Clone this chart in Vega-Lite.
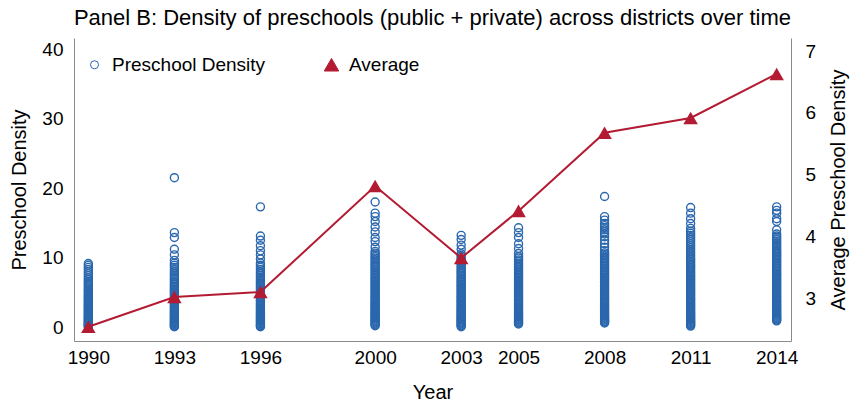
{
  "$schema": "https://vega.github.io/schema/vega-lite/v6.json",
  "width": 717,
  "height": 303,
  "autosize": {"type": "none"},
  "padding": {"left": 74, "top": 38, "right": 63, "bottom": 67},
  "background": "white",
  "config": {
    "view": {"stroke": null},
    "font": "Liberation Sans",
    "axis": {"labelFont": "Liberation Sans", "titleFont": "Liberation Sans", "labelColor": "black", "titleColor": "black", "labelFontSize": 19, "titleFontSize": 20, "titleFontWeight": "normal", "grid": false, "ticks": false, "tickSize": 0, "domainColor": "#8a8a8a", "domainWidth": 1},
    "legend": {"orient": "none", "legendX": 11, "legendY": 17, "direction": "horizontal", "labelFont": "Liberation Sans", "labelFontSize": 19, "labelColor": "black", "labelOffset": 8, "columnPadding": 56, "padding": 0, "symbolStrokeWidth": 1, "labelLimit": 400}
  },
  "title": {"text": "Panel B: Density of preschools (public + private) across districts over time", "font": "Liberation Sans", "fontSize": 22, "fontWeight": "normal", "color": "black", "anchor": "middle", "offset": 8},
  "datasets": {
    "scatter": [
      {"t":1990,"d":0.02},{"t":1990,"d":0.1},{"t":1990,"d":0.18},{"t":1990,"d":0.3},{"t":1990,"d":0.41},{"t":1990,"d":0.5},{"t":1990,"d":0.62},{"t":1990,"d":0.7},{"t":1990,"d":0.83},{"t":1990,"d":0.95},{"t":1990,"d":1.04},{"t":1990,"d":1.2},{"t":1990,"d":1.31},{"t":1990,"d":1.45},{"t":1990,"d":1.6},{"t":1990,"d":1.72},{"t":1990,"d":1.85},{"t":1990,"d":2.0},{"t":1990,"d":2.14},{"t":1990,"d":2.3},{"t":1990,"d":2.42},{"t":1990,"d":2.6},{"t":1990,"d":2.75},{"t":1990,"d":2.9},{"t":1990,"d":3.1},{"t":1990,"d":3.25},{"t":1990,"d":3.42},{"t":1990,"d":3.6},{"t":1990,"d":3.8},{"t":1990,"d":3.97},{"t":1990,"d":4.15},{"t":1990,"d":4.33},{"t":1990,"d":4.52},{"t":1990,"d":4.7},{"t":1990,"d":4.9},{"t":1990,"d":5.1},{"t":1990,"d":5.3},{"t":1990,"d":5.5},{"t":1990,"d":5.72},{"t":1990,"d":5.95},{"t":1990,"d":6.15},{"t":1990,"d":6.4},{"t":1990,"d":6.6},{"t":1990,"d":6.85},{"t":1990,"d":7.1},{"t":1990,"d":7.4},{"t":1990,"d":7.7},{"t":1990,"d":8.0},{"t":1990,"d":8.3},{"t":1990,"d":8.6},{"t":1990,"d":8.9},{"t":1990,"d":9.15},
      {"t":1993,"d":0.05},{"t":1993,"d":0.12},{"t":1993,"d":0.25},{"t":1993,"d":0.38},{"t":1993,"d":0.5},{"t":1993,"d":0.63},{"t":1993,"d":0.77},{"t":1993,"d":0.9},{"t":1993,"d":1.02},{"t":1993,"d":1.18},{"t":1993,"d":1.3},{"t":1993,"d":1.46},{"t":1993,"d":1.6},{"t":1993,"d":1.75},{"t":1993,"d":1.9},{"t":1993,"d":2.05},{"t":1993,"d":2.2},{"t":1993,"d":2.36},{"t":1993,"d":2.5},{"t":1993,"d":2.68},{"t":1993,"d":2.85},{"t":1993,"d":3.0},{"t":1993,"d":3.2},{"t":1993,"d":3.38},{"t":1993,"d":3.55},{"t":1993,"d":3.74},{"t":1993,"d":3.92},{"t":1993,"d":4.1},{"t":1993,"d":4.3},{"t":1993,"d":4.5},{"t":1993,"d":4.7},{"t":1993,"d":4.9},{"t":1993,"d":5.1},{"t":1993,"d":5.3},{"t":1993,"d":5.5},{"t":1993,"d":5.7},{"t":1993,"d":5.9},{"t":1993,"d":6.12},{"t":1993,"d":6.35},{"t":1993,"d":6.55},{"t":1993,"d":6.8},{"t":1993,"d":7.0},{"t":1993,"d":7.25},{"t":1993,"d":7.5},{"t":1993,"d":7.75},{"t":1993,"d":8.0},{"t":1993,"d":8.3},{"t":1993,"d":8.6},{"t":1993,"d":8.9},{"t":1993,"d":9.2},{"t":1993,"d":9.6},{"t":1993,"d":10.4},{"t":1993,"d":11.2},{"t":1993,"d":12.9},{"t":1993,"d":13.6},{"t":1993,"d":21.5},
      {"t":1996,"d":0.05},{"t":1996,"d":0.15},{"t":1996,"d":0.27},{"t":1996,"d":0.4},{"t":1996,"d":0.52},{"t":1996,"d":0.66},{"t":1996,"d":0.8},{"t":1996,"d":0.93},{"t":1996,"d":1.07},{"t":1996,"d":1.2},{"t":1996,"d":1.35},{"t":1996,"d":1.5},{"t":1996,"d":1.66},{"t":1996,"d":1.8},{"t":1996,"d":1.95},{"t":1996,"d":2.1},{"t":1996,"d":2.26},{"t":1996,"d":2.42},{"t":1996,"d":2.6},{"t":1996,"d":2.77},{"t":1996,"d":2.95},{"t":1996,"d":3.12},{"t":1996,"d":3.3},{"t":1996,"d":3.5},{"t":1996,"d":3.68},{"t":1996,"d":3.85},{"t":1996,"d":4.05},{"t":1996,"d":4.25},{"t":1996,"d":4.45},{"t":1996,"d":4.65},{"t":1996,"d":4.85},{"t":1996,"d":5.05},{"t":1996,"d":5.25},{"t":1996,"d":5.45},{"t":1996,"d":5.66},{"t":1996,"d":5.88},{"t":1996,"d":6.1},{"t":1996,"d":6.3},{"t":1996,"d":6.52},{"t":1996,"d":6.75},{"t":1996,"d":7.0},{"t":1996,"d":7.22},{"t":1996,"d":7.48},{"t":1996,"d":7.75},{"t":1996,"d":8.0},{"t":1996,"d":8.3},{"t":1996,"d":8.6},{"t":1996,"d":8.9},{"t":1996,"d":9.2},{"t":1996,"d":9.8},{"t":1996,"d":10.4},{"t":1996,"d":11.0},{"t":1996,"d":11.7},{"t":1996,"d":12.5},{"t":1996,"d":13.1},{"t":1996,"d":17.3},
      {"t":2000,"d":0.2},{"t":2000,"d":0.32},{"t":2000,"d":0.45},{"t":2000,"d":0.6},{"t":2000,"d":0.74},{"t":2000,"d":0.88},{"t":2000,"d":1.0},{"t":2000,"d":1.15},{"t":2000,"d":1.3},{"t":2000,"d":1.44},{"t":2000,"d":1.58},{"t":2000,"d":1.72},{"t":2000,"d":1.88},{"t":2000,"d":2.02},{"t":2000,"d":2.18},{"t":2000,"d":2.34},{"t":2000,"d":2.5},{"t":2000,"d":2.66},{"t":2000,"d":2.82},{"t":2000,"d":3.0},{"t":2000,"d":3.16},{"t":2000,"d":3.34},{"t":2000,"d":3.5},{"t":2000,"d":3.68},{"t":2000,"d":3.86},{"t":2000,"d":4.04},{"t":2000,"d":4.22},{"t":2000,"d":4.4},{"t":2000,"d":4.6},{"t":2000,"d":4.8},{"t":2000,"d":5.0},{"t":2000,"d":5.2},{"t":2000,"d":5.4},{"t":2000,"d":5.6},{"t":2000,"d":5.8},{"t":2000,"d":6.0},{"t":2000,"d":6.2},{"t":2000,"d":6.4},{"t":2000,"d":6.6},{"t":2000,"d":6.8},{"t":2000,"d":7.0},{"t":2000,"d":7.2},{"t":2000,"d":7.42},{"t":2000,"d":7.64},{"t":2000,"d":7.86},{"t":2000,"d":8.08},{"t":2000,"d":8.3},{"t":2000,"d":8.52},{"t":2000,"d":8.75},{"t":2000,"d":8.98},{"t":2000,"d":9.2},{"t":2000,"d":9.44},{"t":2000,"d":9.68},{"t":2000,"d":9.92},{"t":2000,"d":10.16},{"t":2000,"d":10.4},{"t":2000,"d":10.65},{"t":2000,"d":10.9},{"t":2000,"d":11.5},{"t":2000,"d":12.3},{"t":2000,"d":12.9},{"t":2000,"d":13.7},{"t":2000,"d":14.4},{"t":2000,"d":15.2},{"t":2000,"d":15.9},{"t":2000,"d":16.4},{"t":2000,"d":18.0},
      {"t":2003,"d":0.05},{"t":2003,"d":0.18},{"t":2003,"d":0.3},{"t":2003,"d":0.44},{"t":2003,"d":0.58},{"t":2003,"d":0.72},{"t":2003,"d":0.86},{"t":2003,"d":1.0},{"t":2003,"d":1.14},{"t":2003,"d":1.3},{"t":2003,"d":1.45},{"t":2003,"d":1.6},{"t":2003,"d":1.76},{"t":2003,"d":1.92},{"t":2003,"d":2.08},{"t":2003,"d":2.24},{"t":2003,"d":2.4},{"t":2003,"d":2.58},{"t":2003,"d":2.75},{"t":2003,"d":2.92},{"t":2003,"d":3.1},{"t":2003,"d":3.28},{"t":2003,"d":3.46},{"t":2003,"d":3.64},{"t":2003,"d":3.82},{"t":2003,"d":4.0},{"t":2003,"d":4.2},{"t":2003,"d":4.4},{"t":2003,"d":4.6},{"t":2003,"d":4.8},{"t":2003,"d":5.0},{"t":2003,"d":5.2},{"t":2003,"d":5.4},{"t":2003,"d":5.6},{"t":2003,"d":5.8},{"t":2003,"d":6.0},{"t":2003,"d":6.2},{"t":2003,"d":6.4},{"t":2003,"d":6.6},{"t":2003,"d":6.82},{"t":2003,"d":7.04},{"t":2003,"d":7.26},{"t":2003,"d":7.48},{"t":2003,"d":7.7},{"t":2003,"d":7.92},{"t":2003,"d":8.14},{"t":2003,"d":8.36},{"t":2003,"d":8.6},{"t":2003,"d":8.84},{"t":2003,"d":9.08},{"t":2003,"d":9.32},{"t":2003,"d":9.56},{"t":2003,"d":9.8},{"t":2003,"d":10.05},{"t":2003,"d":10.3},{"t":2003,"d":10.55},{"t":2003,"d":11.2},{"t":2003,"d":11.8},{"t":2003,"d":12.6},{"t":2003,"d":13.2},
      {"t":2005,"d":0.45},{"t":2005,"d":0.58},{"t":2005,"d":0.7},{"t":2005,"d":0.84},{"t":2005,"d":0.98},{"t":2005,"d":1.12},{"t":2005,"d":1.27},{"t":2005,"d":1.42},{"t":2005,"d":1.57},{"t":2005,"d":1.72},{"t":2005,"d":1.88},{"t":2005,"d":2.04},{"t":2005,"d":2.2},{"t":2005,"d":2.36},{"t":2005,"d":2.52},{"t":2005,"d":2.7},{"t":2005,"d":2.88},{"t":2005,"d":3.06},{"t":2005,"d":3.24},{"t":2005,"d":3.42},{"t":2005,"d":3.6},{"t":2005,"d":3.8},{"t":2005,"d":4.0},{"t":2005,"d":4.2},{"t":2005,"d":4.4},{"t":2005,"d":4.6},{"t":2005,"d":4.8},{"t":2005,"d":5.0},{"t":2005,"d":5.2},{"t":2005,"d":5.4},{"t":2005,"d":5.6},{"t":2005,"d":5.8},{"t":2005,"d":6.0},{"t":2005,"d":6.2},{"t":2005,"d":6.4},{"t":2005,"d":6.6},{"t":2005,"d":6.8},{"t":2005,"d":7.0},{"t":2005,"d":7.2},{"t":2005,"d":7.42},{"t":2005,"d":7.64},{"t":2005,"d":7.86},{"t":2005,"d":8.08},{"t":2005,"d":8.3},{"t":2005,"d":8.52},{"t":2005,"d":8.74},{"t":2005,"d":8.96},{"t":2005,"d":9.2},{"t":2005,"d":9.44},{"t":2005,"d":9.68},{"t":2005,"d":9.92},{"t":2005,"d":10.15},{"t":2005,"d":10.6},{"t":2005,"d":11.3},{"t":2005,"d":12.0},{"t":2005,"d":12.9},{"t":2005,"d":13.6},{"t":2005,"d":14.3},
      {"t":2008,"d":0.6},{"t":2008,"d":0.72},{"t":2008,"d":0.85},{"t":2008,"d":1.0},{"t":2008,"d":1.14},{"t":2008,"d":1.28},{"t":2008,"d":1.42},{"t":2008,"d":1.57},{"t":2008,"d":1.72},{"t":2008,"d":1.88},{"t":2008,"d":2.04},{"t":2008,"d":2.2},{"t":2008,"d":2.36},{"t":2008,"d":2.52},{"t":2008,"d":2.7},{"t":2008,"d":2.88},{"t":2008,"d":3.06},{"t":2008,"d":3.24},{"t":2008,"d":3.42},{"t":2008,"d":3.6},{"t":2008,"d":3.8},{"t":2008,"d":4.0},{"t":2008,"d":4.2},{"t":2008,"d":4.4},{"t":2008,"d":4.6},{"t":2008,"d":4.8},{"t":2008,"d":5.0},{"t":2008,"d":5.2},{"t":2008,"d":5.4},{"t":2008,"d":5.6},{"t":2008,"d":5.8},{"t":2008,"d":6.0},{"t":2008,"d":6.2},{"t":2008,"d":6.4},{"t":2008,"d":6.6},{"t":2008,"d":6.8},{"t":2008,"d":7.0},{"t":2008,"d":7.2},{"t":2008,"d":7.4},{"t":2008,"d":7.6},{"t":2008,"d":7.82},{"t":2008,"d":8.04},{"t":2008,"d":8.26},{"t":2008,"d":8.48},{"t":2008,"d":8.7},{"t":2008,"d":8.92},{"t":2008,"d":9.14},{"t":2008,"d":9.36},{"t":2008,"d":9.58},{"t":2008,"d":9.8},{"t":2008,"d":10.02},{"t":2008,"d":10.24},{"t":2008,"d":10.46},{"t":2008,"d":10.68},{"t":2008,"d":11.0},{"t":2008,"d":11.5},{"t":2008,"d":12.0},{"t":2008,"d":12.5},{"t":2008,"d":13.0},{"t":2008,"d":13.4},{"t":2008,"d":13.7},{"t":2008,"d":14.0},{"t":2008,"d":14.3},{"t":2008,"d":14.6},{"t":2008,"d":14.9},{"t":2008,"d":15.4},{"t":2008,"d":15.9},{"t":2008,"d":18.8},
      {"t":2011,"d":0.15},{"t":2011,"d":0.28},{"t":2011,"d":0.4},{"t":2011,"d":0.54},{"t":2011,"d":0.68},{"t":2011,"d":0.82},{"t":2011,"d":0.96},{"t":2011,"d":1.1},{"t":2011,"d":1.25},{"t":2011,"d":1.4},{"t":2011,"d":1.55},{"t":2011,"d":1.7},{"t":2011,"d":1.86},{"t":2011,"d":2.02},{"t":2011,"d":2.18},{"t":2011,"d":2.34},{"t":2011,"d":2.5},{"t":2011,"d":2.66},{"t":2011,"d":2.84},{"t":2011,"d":3.02},{"t":2011,"d":3.2},{"t":2011,"d":3.38},{"t":2011,"d":3.56},{"t":2011,"d":3.74},{"t":2011,"d":3.92},{"t":2011,"d":4.1},{"t":2011,"d":4.3},{"t":2011,"d":4.5},{"t":2011,"d":4.7},{"t":2011,"d":4.9},{"t":2011,"d":5.1},{"t":2011,"d":5.3},{"t":2011,"d":5.5},{"t":2011,"d":5.7},{"t":2011,"d":5.9},{"t":2011,"d":6.1},{"t":2011,"d":6.3},{"t":2011,"d":6.5},{"t":2011,"d":6.7},{"t":2011,"d":6.9},{"t":2011,"d":7.1},{"t":2011,"d":7.3},{"t":2011,"d":7.5},{"t":2011,"d":7.72},{"t":2011,"d":7.94},{"t":2011,"d":8.16},{"t":2011,"d":8.38},{"t":2011,"d":8.6},{"t":2011,"d":8.82},{"t":2011,"d":9.04},{"t":2011,"d":9.26},{"t":2011,"d":9.48},{"t":2011,"d":9.7},{"t":2011,"d":9.92},{"t":2011,"d":10.2},{"t":2011,"d":10.5},{"t":2011,"d":10.8},{"t":2011,"d":11.1},{"t":2011,"d":11.4},{"t":2011,"d":11.7},{"t":2011,"d":12.0},{"t":2011,"d":12.3},{"t":2011,"d":12.6},{"t":2011,"d":12.9},{"t":2011,"d":13.2},{"t":2011,"d":13.5},{"t":2011,"d":13.8},{"t":2011,"d":14.2},{"t":2011,"d":14.9},{"t":2011,"d":15.6},{"t":2011,"d":16.4},{"t":2011,"d":17.2},
      {"t":2014,"d":0.9},{"t":2014,"d":1.02},{"t":2014,"d":1.15},{"t":2014,"d":1.28},{"t":2014,"d":1.42},{"t":2014,"d":1.56},{"t":2014,"d":1.7},{"t":2014,"d":1.85},{"t":2014,"d":2.0},{"t":2014,"d":2.15},{"t":2014,"d":2.3},{"t":2014,"d":2.46},{"t":2014,"d":2.62},{"t":2014,"d":2.78},{"t":2014,"d":2.94},{"t":2014,"d":3.1},{"t":2014,"d":3.28},{"t":2014,"d":3.46},{"t":2014,"d":3.64},{"t":2014,"d":3.82},{"t":2014,"d":4.0},{"t":2014,"d":4.2},{"t":2014,"d":4.4},{"t":2014,"d":4.6},{"t":2014,"d":4.8},{"t":2014,"d":5.0},{"t":2014,"d":5.2},{"t":2014,"d":5.4},{"t":2014,"d":5.6},{"t":2014,"d":5.8},{"t":2014,"d":6.0},{"t":2014,"d":6.2},{"t":2014,"d":6.4},{"t":2014,"d":6.6},{"t":2014,"d":6.8},{"t":2014,"d":7.0},{"t":2014,"d":7.2},{"t":2014,"d":7.4},{"t":2014,"d":7.6},{"t":2014,"d":7.8},{"t":2014,"d":8.02},{"t":2014,"d":8.24},{"t":2014,"d":8.46},{"t":2014,"d":8.68},{"t":2014,"d":8.9},{"t":2014,"d":9.12},{"t":2014,"d":9.34},{"t":2014,"d":9.56},{"t":2014,"d":9.78},{"t":2014,"d":10.0},{"t":2014,"d":10.22},{"t":2014,"d":10.44},{"t":2014,"d":10.66},{"t":2014,"d":10.88},{"t":2014,"d":11.1},{"t":2014,"d":11.35},{"t":2014,"d":11.6},{"t":2014,"d":11.85},{"t":2014,"d":12.1},{"t":2014,"d":12.35},{"t":2014,"d":12.6},{"t":2014,"d":12.85},{"t":2014,"d":13.1},{"t":2014,"d":13.4},{"t":2014,"d":14.0},{"t":2014,"d":15.2},{"t":2014,"d":15.6},{"t":2014,"d":16.4},{"t":2014,"d":16.8},{"t":2014,"d":17.3}
    ],
    "avg": [
      {"t":1990,"a":2.55},{"t":1993,"a":3.03},{"t":1996,"a":3.11},{"t":2000,"a":4.82},{"t":2003,"a":3.66},{"t":2005,"a":4.42},{"t":2008,"a":5.68},{"t":2011,"a":5.92},{"t":2014,"a":6.63}
    ]
  },
  "layer": [
    {
      "data": {"name": "scatter"},
      "mark": {"type": "point", "filled": false, "strokeWidth": 1.4, "opacity": 1},
      "encoding": {
        "x": {"field": "t", "type": "quantitative", "scale": {"domain": [1989.5, 2014.5], "nice": false, "zero": false}, "axis": {"values": [1990,1993,1996,2000,2003,2005,2008,2011,2014], "format": "d", "title": "Year", "labelPadding": 7, "titlePadding": 15, "labelFlush": false}},
        "y": {"field": "d", "type": "quantitative", "scale": {"domain": [-2, 41.6], "nice": false, "zero": false}, "axis": {"values": [0,10,20,30,40], "title": "Preschool Density", "labelPadding": 11, "titlePadding": 12}},
        "stroke": {"datum": "Preschool Density", "type": "ordinal", "scale": {"domain": ["Preschool Density", "Average"], "range": ["#2a67ad", "#b31b32"]}, "legend": {"title": null}},
        "fill": {"datum": "Preschool Density", "type": "ordinal", "scale": {"domain": ["Preschool Density", "Average"], "range": ["transparent", "#b31b32"]}, "legend": {"title": null}},
        "shape": {"datum": "Preschool Density", "type": "ordinal", "scale": {"domain": ["Preschool Density", "Average"], "range": ["circle", "triangle-up"]}, "legend": {"title": null}},
        "size": {"datum": "Preschool Density", "type": "ordinal", "scale": {"domain": ["Preschool Density", "Average"], "range": [64, 210]}, "legend": {"title": null}}
      }
    },
    {
      "data": {"name": "avg"},
      "encoding": {
        "x": {"field": "t", "type": "quantitative"},
        "y": {"field": "a", "type": "quantitative", "scale": {"domain": [2.32, 7.21], "nice": false, "zero": false}, "axis": {"orient": "right", "values": [3,4,5,6,7], "title": "Average Preschool Density", "titleAngle": 270, "titleBaseline": "top", "labelPadding": 14, "titlePadding": 13}}
      },
      "layer": [
        {"mark": {"type": "line", "color": "#b31b32", "strokeWidth": 2}},
        {
          "mark": {"type": "point", "filled": true, "opacity": 1, "strokeWidth": 0},
          "encoding": {
            "stroke": {"datum": "Average", "type": "ordinal", "legend": {"title": null}},
            "fill": {"datum": "Average", "type": "ordinal", "legend": {"title": null}},
            "shape": {"datum": "Average", "type": "ordinal", "legend": {"title": null}},
            "size": {"datum": "Average", "type": "ordinal", "legend": {"title": null}}
          }
        }
      ]
    }
  ],
  "resolve": {"scale": {"y": "independent"}}
}
